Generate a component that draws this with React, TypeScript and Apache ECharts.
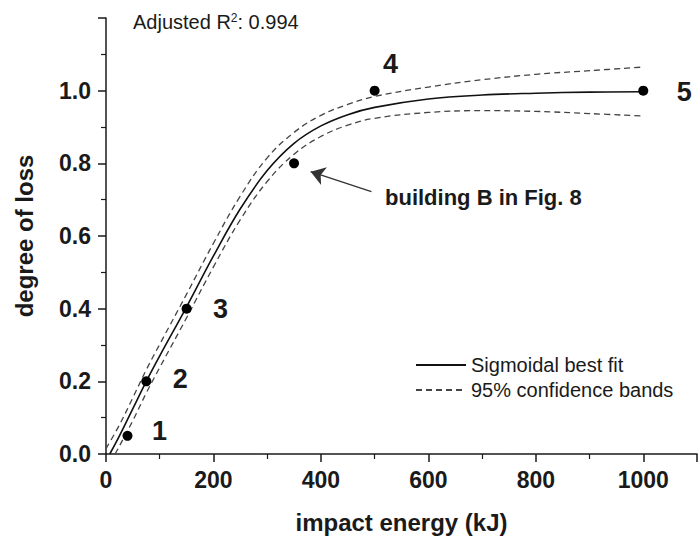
import React, { useEffect, useRef } from "react";
import * as echarts from "echarts";

// Observed data points (impact energy kJ, degree of loss)
const pointX = [40, 75, 150, 350, 500, 1000];
const pointY = [0.05, 0.2, 0.4, 0.8, 1.0, 1.0];
const pointLabels = ["1", "2", "3", "", "4", "5"];

// Sigmoidal best fit curve
const fitX = [7, 25, 50, 75, 100, 150, 200, 250, 300, 350, 400, 450, 500, 600, 700, 800, 900, 1000];
const fitY = [0, 0.05, 0.125, 0.2, 0.27, 0.405, 0.545, 0.675, 0.78, 0.855, 0.903, 0.934, 0.954, 0.977, 0.988, 0.993, 0.996, 0.997];

// 95% confidence bands
const upperX = [0, 25, 50, 75, 100, 150, 200, 250, 300, 350, 400, 450, 500, 600, 700, 800, 900, 1000];
const upperY = [0.015, 0.08, 0.155, 0.232, 0.302, 0.44, 0.58, 0.71, 0.815, 0.885, 0.932, 0.962, 0.984, 1.01, 1.03, 1.045, 1.055, 1.065];
const lowerX = [17, 25, 50, 75, 100, 150, 200, 250, 300, 350, 400, 450, 500, 600, 700, 800, 900, 1000];
const lowerY = [0, 0.022, 0.092, 0.168, 0.238, 0.375, 0.515, 0.645, 0.75, 0.825, 0.874, 0.905, 0.924, 0.94, 0.945, 0.943, 0.937, 0.93];

// Arrow annotation (data coordinates): from -> to
const arrowFrom = [494, 0.722];
const arrowTo = [381, 0.777];

const xTickMax = 1000;
const yTickMax = 1.0;

const zip = (xs: number[], ys: number[]) => xs.map((x, i) => [x, ys[i]]);

// label offsets (style only)
const labelOffsets: number[][] = [
  [32, -5],
  [34, -2],
  [34, 0],
  [0, 0],
  [16, -27],
  [41, 1],
];

const FONT = "'Liberation Sans', Arial, Helvetica, sans-serif";
const INK = "#1a1a1a";

export default function App() {
  const ref = useRef<HTMLDivElement>(null);
  useEffect(() => {
    if (!ref.current) return;
    const chart = echarts.init(ref.current, undefined, { renderer: "svg" });
    chart.setOption({
      animation: false,
      backgroundColor: "#fff",
      textStyle: { fontFamily: FONT },
      grid: { left: 106, right: 0, top: 18, bottom: 84, containLabel: false },
      xAxis: {
        type: "value",
        min: 0,
        max: 1100,
        interval: 200,
        name: "impact energy (kJ)",
        nameLocation: "middle",
        nameGap: 56,
        nameTextStyle: { fontFamily: FONT, fontSize: 24, fontWeight: "bold", color: INK },
        axisLine: { show: true, lineStyle: { color: INK, width: 1.5 } },
        axisTick: { show: true, inside: false, length: 8, lineStyle: { color: INK, width: 1.5 } },
        minorTick: { show: true, splitNumber: 2, length: 5, lineStyle: { color: INK, width: 1.2 } },
        splitLine: { show: false },
        axisLabel: {
          margin: 14,
          fontFamily: FONT,
          fontSize: 23,
          fontWeight: "bold",
          color: INK,
          formatter: (v: number) => (v > xTickMax ? "" : String(v)),
        },
      },
      yAxis: {
        type: "value",
        min: 0,
        max: 1.2,
        interval: 0.2,
        name: "degree of loss",
        nameLocation: "middle",
        nameGap: 70,
        nameTextStyle: { fontFamily: FONT, fontSize: 24, fontWeight: "bold", color: INK },
        axisLine: { show: true, lineStyle: { color: INK, width: 1.5 } },
        axisTick: { show: true, inside: false, length: 8, lineStyle: { color: INK, width: 1.5 } },
        minorTick: { show: true, splitNumber: 2, length: 5, lineStyle: { color: INK, width: 1.2 } },
        splitLine: { show: false },
        axisLabel: {
          margin: 15,
          fontFamily: FONT,
          fontSize: 23,
          fontWeight: "bold",
          color: INK,
          formatter: (v: number) => (v > yTickMax + 0.05 ? "" : v.toFixed(1)),
        },
      },
      legend: {
        orient: "vertical",
        left: 410,
        top: 350,
        itemWidth: 50,
        itemHeight: 14,
        itemGap: 5,
        selectedMode: false,
        itemStyle: { opacity: 0 },
        textStyle: { fontFamily: FONT, fontSize: 20, color: INK },
        data: ["Sigmoidal best fit", "95% confidence bands"],
      },
      graphic: [
        {
          type: "text",
          left: 133,
          top: 12,
          style: {
            text: "Adjusted R{sup|2}: 0.994",
            font: `20px ${FONT}`,
            fill: INK,
            rich: {
              sup: { fontSize: 12, verticalAlign: "top", fill: INK, fontFamily: FONT },
            },
          },
        },
        {
          type: "text",
          left: 385,
          top: 186,
          style: {
            text: "building B in Fig. 8",
            font: `bold 22px ${FONT}`,
            fill: INK,
          },
        },
      ],
      series: [
        {
          name: "Sigmoidal best fit",
          type: "line",
          smooth: 0.4,
          symbol: "none",
          data: zip(fitX, fitY),
          lineStyle: { color: "#111", width: 1.6, type: "solid" },
          itemStyle: { color: "#111" },
          z: 3,
        },
        {
          name: "95% confidence bands",
          type: "line",
          smooth: 0.4,
          symbol: "none",
          data: zip(upperX, upperY),
          lineStyle: { color: "#444", width: 1.3, type: [6, 4] },
          itemStyle: { color: "#444" },
          z: 3,
        },
        {
          name: "95% confidence bands",
          type: "line",
          smooth: 0.4,
          symbol: "none",
          data: zip(lowerX, lowerY),
          lineStyle: { color: "#444", width: 1.3, type: [6, 4] },
          itemStyle: { color: "#444" },
          z: 3,
        },
        {
          name: "points",
          type: "scatter",
          symbol: "circle",
          symbolSize: 10,
          itemStyle: { color: "#000", opacity: 1 },
          z: 4,
          data: pointX.map((x, i) => ({
            value: [x, pointY[i]],
            label: {
              show: pointLabels[i] !== "",
              formatter: pointLabels[i],
              position: "inside",
              offset: labelOffsets[i],
              fontFamily: FONT,
              fontSize: 27,
              fontWeight: "bold",
              color: INK,
            },
          })),
        },
        {
          name: "arrow",
          type: "line",
          symbol: "none",
          data: [],
          markLine: {
            silent: true,
            symbol: ["none", "arrow"],
            symbolSize: 14,
            label: { show: false },
            lineStyle: { color: "#333", width: 1.3, type: "solid" },
            itemStyle: { color: "#222" },
            data: [[{ coord: arrowFrom }, { coord: arrowTo }]],
          },
        },
      ],
    });
    return () => chart.dispose();
  }, []);
  return <div ref={ref} style={{ width: 700, height: 539, position: "absolute", left: 0, top: 0 }} />;
}
